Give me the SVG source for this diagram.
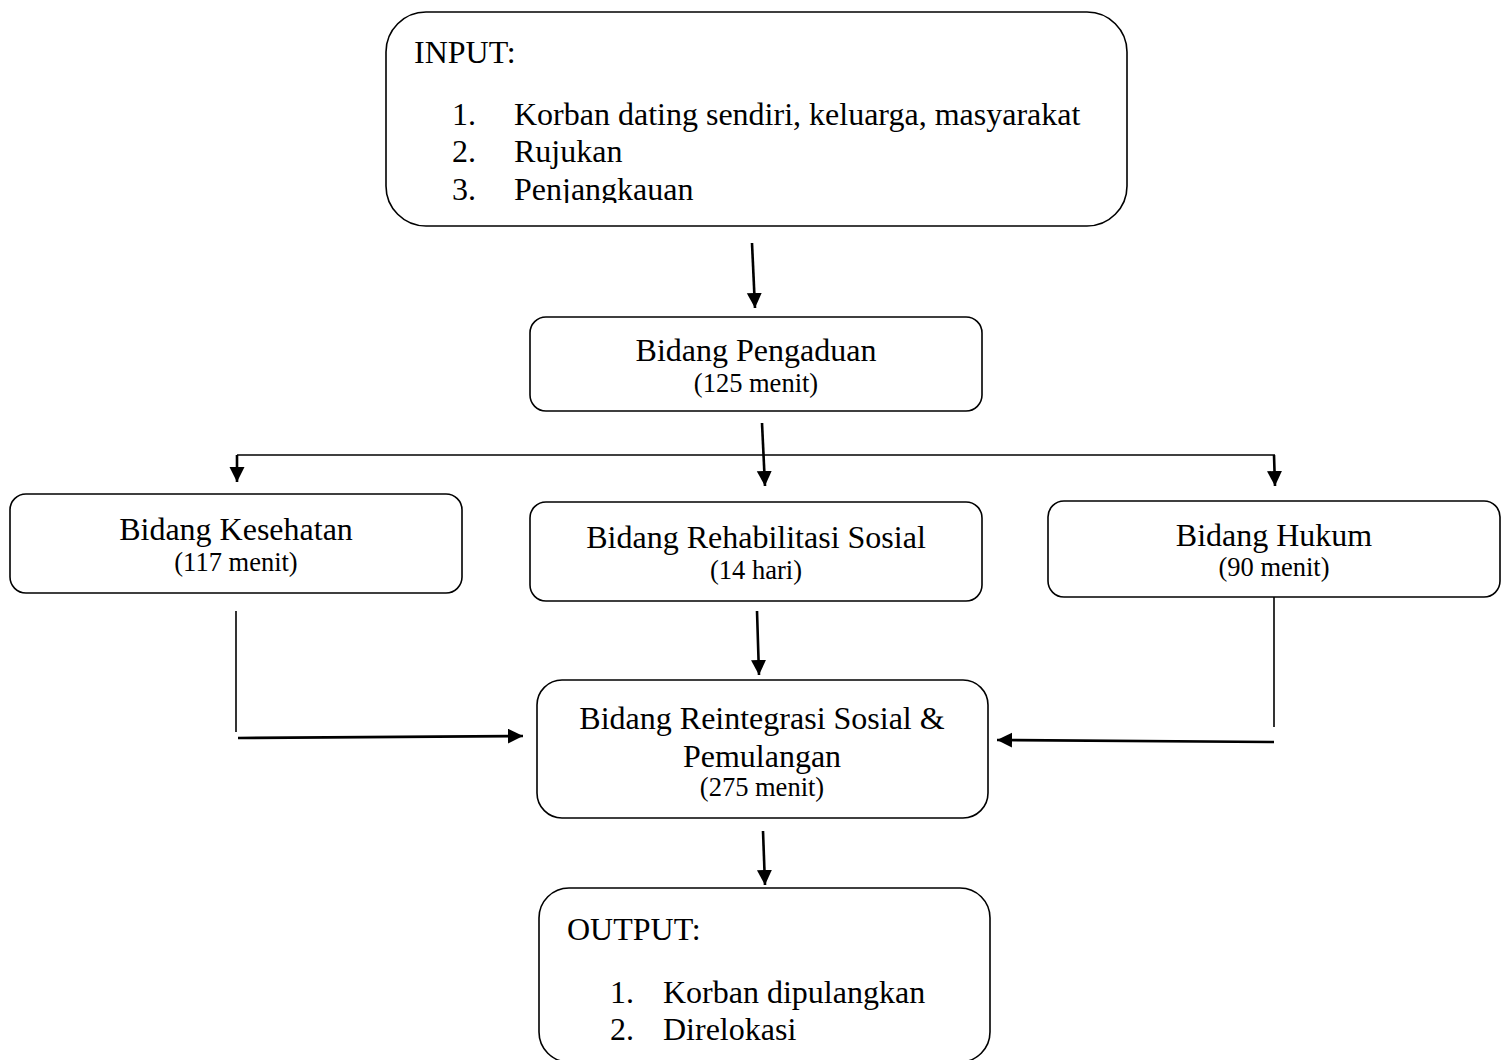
<svg xmlns="http://www.w3.org/2000/svg" width="1506" height="1060" viewBox="0 0 1506 1060">
<style>
.box{fill:#fff;stroke:#000;stroke-width:1.6}
.t{font-family:"Liberation Serif","Times New Roman",serif;font-size:32px;fill:#000}
.s{font-family:"Liberation Serif","Times New Roman",serif;font-size:26.5px;fill:#000}
.c{text-anchor:middle}
.ln{stroke:#000;stroke-width:1.6;fill:none}
.ar{stroke:#000;stroke-width:2.6;fill:none;marker-end:url(#ah)}
</style>
<defs>
<marker id="ah" markerUnits="userSpaceOnUse" markerWidth="16" markerHeight="16" refX="15" refY="7.5" orient="auto">
<path d="M0,0 L15,7.5 L0,15 z" fill="#000"/>
</marker>
<clipPath id="clipIn"><rect x="386" y="12" width="741" height="191"/></clipPath>
</defs>
<rect width="1506" height="1060" fill="#fff"/>
<g id="connectors">
<line class="ar" x1="752" y1="243" x2="755" y2="308"/>
<line class="ar" x1="762" y1="423" x2="765" y2="486"/>
<line class="ln" x1="237" y1="455" x2="1275" y2="455"/>
<line class="ar" x1="237" y1="455" x2="237" y2="482"/>
<line class="ar" x1="1274" y1="455" x2="1275" y2="486"/>
<line class="ar" x1="757" y1="611" x2="759" y2="675"/>
<line class="ln" x1="236" y1="611" x2="236" y2="732"/>
<line class="ar" x1="238" y1="738" x2="523" y2="736"/>
<line class="ln" x1="1274" y1="588" x2="1274" y2="727"/>
<line class="ar" x1="1274" y1="742" x2="997" y2="740"/>
<line class="ar" x1="763" y1="831" x2="765" y2="885"/>
</g>
<g id="input">
<rect class="box" x="386" y="12" width="741" height="214" rx="40"/>
<text class="t" x="414" y="63">INPUT:</text>
<text class="t" x="452" y="125">1.</text><text class="t" x="514" y="125">Korban dating sendiri, keluarga, masyarakat</text>
<text class="t" x="452" y="162">2.</text><text class="t" x="514" y="162">Rujukan</text>
<g clip-path="url(#clipIn)"><text class="t" x="452" y="200">3.</text><text class="t" x="514" y="200">Penjangkauan</text></g>
</g>
<g id="pengaduan">
<rect class="box" x="530" y="317" width="452" height="94" rx="16"/>
<text class="t c" x="756" y="361">Bidang Pengaduan</text>
<text class="s c" x="756" y="392">(125 menit)</text>
</g>
<g id="kesehatan">
<rect class="box" x="10" y="494" width="452" height="99" rx="16"/>
<text class="t c" x="236" y="540">Bidang Kesehatan</text>
<text class="s c" x="236" y="571">(117 menit)</text>
</g>
<g id="rehabilitasi">
<rect class="box" x="530" y="502" width="452" height="99" rx="16"/>
<text class="t c" x="756" y="548">Bidang Rehabilitasi Sosial</text>
<text class="s c" x="756" y="579">(14 hari)</text>
</g>
<g id="hukum">
<rect class="box" x="1048" y="501" width="452" height="96" rx="16"/>
<text class="t c" x="1274" y="546">Bidang Hukum</text>
<text class="s c" x="1274" y="576">(90 menit)</text>
</g>
<g id="reintegrasi">
<rect class="box" x="537" y="680" width="451" height="138" rx="25"/>
<text class="t c" x="762" y="729">Bidang Reintegrasi Sosial &amp;</text>
<text class="t c" x="762" y="767">Pemulangan</text>
<text class="s c" x="762" y="796">(275 menit)</text>
</g>
<g id="output">
<rect class="box" x="539" y="888" width="451" height="174" rx="30"/>
<text class="t" x="567" y="940">OUTPUT:</text>
<text class="t" x="610" y="1003">1.</text><text class="t" x="663" y="1003">Korban dipulangkan</text>
<text class="t" x="610" y="1040">2.</text><text class="t" x="663" y="1040">Direlokasi</text>
</g>
</svg>
